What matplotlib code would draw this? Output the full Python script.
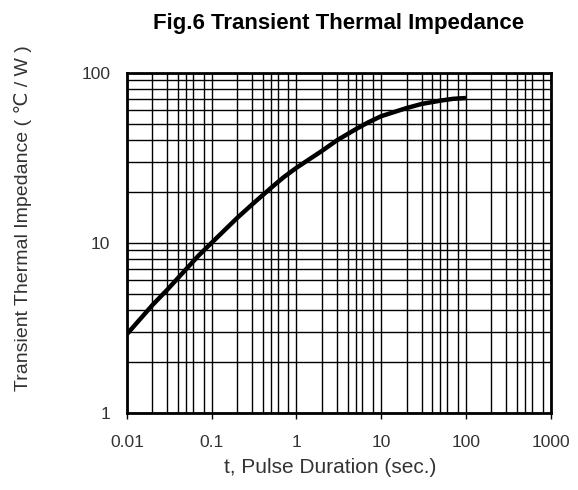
# Fig.6 - transient thermal impedance vs pulse duration (log-log)

import matplotlib
matplotlib.use("Agg")
import matplotlib.pyplot as plt
from matplotlib.ticker import LogLocator, NullFormatter, FixedLocator, FixedFormatter


# ------ Données ------

t_pulse = [0.01, 0.02, 0.03, 0.05, 0.07, 0.1, 0.2, 0.3, 0.5, 0.7,
           1, 2, 3, 5, 7, 10, 20, 30, 50, 70, 100]
z_th = [2.9, 4.3, 5.3, 7.0, 8.4, 10.0, 14.0, 16.8, 21.0, 24.2,
        27.6, 34.7, 40.0, 46.5, 51.0, 55.5, 62.0, 65.5, 68.5, 70.2, 71.0]

x_ticks = [0.01, 0.1, 1, 10, 100, 1000]
x_labels = ["0.01", "0.1", "1", "10", "100", "1000"]
y_ticks = [1, 10, 100]
y_labels = ["1", "10", "100"]


# ------ Figure ------

plt.rcParams["font.family"] = ["Liberation Sans", "DejaVu Sans"]
TXT = "#333333"

fig = plt.figure(figsize=(5.78, 4.90), dpi=100)
ax = fig.add_axes([0.2197, 0.1578, 0.7331, 0.6938])

ax.plot(t_pulse, z_th, color="black", linewidth=3.2, solid_capstyle="butt", zorder=3)

ax.set_xscale("log")
ax.set_yscale("log")
ax.set_xlim(0.01, 1000)
ax.set_ylim(1, 100)

ax.xaxis.set_major_locator(FixedLocator(x_ticks))
ax.xaxis.set_major_formatter(FixedFormatter(x_labels))
ax.xaxis.set_minor_locator(LogLocator(base=10, subs=(2, 3, 4, 5, 6, 8)))
ax.xaxis.set_minor_formatter(NullFormatter())
ax.yaxis.set_major_locator(FixedLocator(y_ticks))
ax.yaxis.set_major_formatter(FixedFormatter(y_labels))
ax.yaxis.set_minor_locator(LogLocator(base=10, subs=(2, 3, 4, 5, 6, 7, 8, 9)))
ax.yaxis.set_minor_formatter(NullFormatter())

ax.grid(True, which="both", color="black", linewidth=1.0)
ax.set_axisbelow(True)
for s in ax.spines.values():
    s.set_linewidth(2.0)
    s.set_color("black")

ax.tick_params(axis="x", which="major", length=4, width=1, direction="out",
               pad=12, labelsize=12.5, labelcolor=TXT)
ax.tick_params(axis="x", which="minor", length=0)
ax.tick_params(axis="y", which="both", length=0, pad=12, labelsize=12.5, labelcolor=TXT)

fig.text(0.586, 0.953, "Fig.6 Transient Thermal Impedance", ha="center", va="center",
         fontsize=16, fontweight="bold", color="black")
fig.text(0.571, 0.045, "t, Pulse Duration (sec.)", ha="center", va="center",
         fontsize=15, color=TXT)
fig.text(0.040, 0.555, "Transient Thermal Impedance ( \u2103 / W )", ha="center", va="center",
         rotation=90, fontsize=14, color=TXT)

fig.savefig("out.png", dpi=100)
